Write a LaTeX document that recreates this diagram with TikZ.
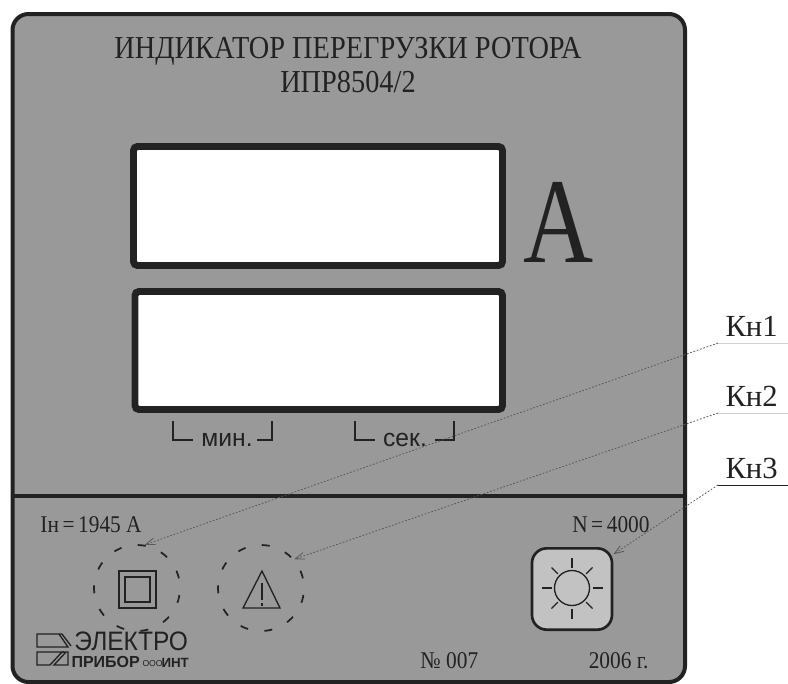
\documentclass[tikz,border=0pt]{standalone}
\usepackage{fontspec}
\setmainfont{Liberation Serif}
\setsansfont{Liberation Sans}
\usetikzlibrary{arrows.meta}
\definecolor{panelgrey}{HTML}{999999}
\definecolor{btngrey}{HTML}{C2C2C2}
\definecolor{inkdark}{HTML}{222222}
\definecolor{leadergrey}{HTML}{5A5A5A}
\tikzset{every picture/.style={line width=0.75pt}}
\tikzset{
  paneltext/.style={inner sep=0pt,text=inkdark},
  smalltext/.style={paneltext,xscale=0.89,font=\fontsize{18pt}{20pt}\selectfont},
  titletext/.style={paneltext,anchor=base,xscale=0.886,font=\fontsize{24pt}{26pt}\selectfont},
  dispbox/.style={draw=inkdark,fill=white,line width=5.2pt,rounded corners=3pt},
  btnring/.style={circle,draw=inkdark,line width=1.3pt,minimum size=64.5pt,inner sep=0pt,dash pattern=on 6pt off 12.4pt,dash phase=11.1pt},
  btnbox/.style={draw=inkdark,fill=btngrey,line width=2pt,rounded corners=11pt,minimum width=60pt,minimum height=61pt,inner sep=0pt},
  leader/.style={draw=leadergrey,line width=0.6pt,dash pattern=on 1.3pt off 1.3pt,-{Straight Barb[length=7pt,width=5pt]}},
  symline/.style={draw=inkdark,line width=1pt},
}

\begin{document}
\begin{tikzpicture}[x=0.75pt,y=0.75pt,yscale=-1,xscale=1]
\useasboundingbox (0,0) rectangle (788,683);

%Shape: Panel
\draw [draw=inkdark,fill=panelgrey,line width=3pt,rounded corners=12pt] (12.5,14) rectangle (685,682);
%Straight Lines: divider
\draw [draw=inkdark,line width=2.8pt] (12.5,496) -- (685,496);

%Shape: Displays
\draw [dispbox] (133.5,146.5) rectangle (502.5,265.5);
\draw [dispbox] (135,291.5) rectangle (502.5,409.5);

% Text Node
\node (title) [titletext] at (348,58) {ИНДИКАТОР ПЕРЕГРУЗКИ РОТОРА};
\node (model) [titletext] at (348,92.5) {ИПР8504/2};
\node (unit) [paneltext,anchor=base,xscale=0.8] at (559,262) {\fontsize{91pt}{91pt}\selectfont А};

%Straight Lines: brackets
\draw [symline] (173,421) -- (173,440) -- (193,440);
\draw [symline] (272,421) -- (272,440) -- (257,440);
\draw [symline] (355,421) -- (355,440) -- (375,440);
\draw [symline] (454,421) -- (454,440) -- (435,440);
\node (minlabel) [paneltext,anchor=base] at (227,446) {\sffamily\fontsize{18.5pt}{20pt}\selectfont мин.};
\node (seclabel) [paneltext,anchor=base] at (405,446) {\sffamily\fontsize{18.5pt}{20pt}\selectfont сек.};

% Text Node
\node (current) [smalltext,anchor=base west] at (40,532) {Iн\,=\,1945 А};
\node (speed) [smalltext,anchor=base east] at (650,532) {N\,=\,4000};
\node (serial) [smalltext,anchor=base west] at (420,668) {№ 007};
\node (year) [smalltext,anchor=base east] at (649,668) {2006 г.};

%Shape: Buttons
\node (btna) [btnring] at (137,588) {};
\node (btnb) [btnring] at (261,588) {};
\node (btnc) [btnbox] at (572,589) {};

%Shape: Square symbol
\draw [symline] (119,571) rectangle (156,608);
\draw [symline] (125,577) rectangle (150,602);
%Shape: Triangle symbol
\draw [symline,line join=miter] (262,571) -- (280,608) -- (243,608) -- cycle;
\draw [symline] (262,583) -- (262,600);
\draw [symline] (262,603) -- (262,606);
%Shape: Sun symbol
\draw [symline] (572,588) circle (17.5);
\foreach \ang in {0,90,180,270} {
  \draw [symline] (572,588) ++(\ang:20.5) -- ++(\ang:10);
}
\foreach \ang in {45,135,225,315} {
  \draw [symline] (572,588) ++(\ang:20) -- ++(\ang:9);
}

%Shape: Logo emblem
\draw [symline] (62,634) -- (37,634) -- (37,647) -- (68,647) -- (59,634);
\draw [symline] (62,634) -- (71,646);
\draw [symline] (64,652) -- (37,652) -- (37,665) -- (50,665) -- (62,652);
\draw [symline] (66,652) -- (54,665) -- (68,665) -- (68,652) -- (62,652);
\node (logotop) [paneltext,anchor=base west,xscale=0.92] at (74,650) {\sffamily\fontsize{20pt}{22pt}\selectfont ЭЛЕКТРО};
\node (logobot) [paneltext,anchor=base west] at (71,667) {\sffamily\bfseries\fontsize{12pt}{14pt}\selectfont ПРИБОР};
\node (logoooo) [paneltext,anchor=base west] at (142,666) {\sffamily\fontsize{6.5pt}{8pt}\selectfont ООО};
\node (logoint) [paneltext,anchor=base west] at (161,667) {\sffamily\bfseries\fontsize{10pt}{12pt}\selectfont ИНТ};

% Leaders
\node (kna) [paneltext,anchor=base west] at (725,336) {\fontsize{23pt}{25pt}\selectfont Кн1};
\node (knb) [paneltext,anchor=base west] at (725,406) {\fontsize{23pt}{25pt}\selectfont Кн2};
\node (knc) [paneltext,anchor=base west] at (725,478) {\fontsize{23pt}{25pt}\selectfont Кн3};
\coordinate (knaleft) at (718,343);
\coordinate (knbleft) at (718,413);
\coordinate (kncleft) at (718,485);
\coordinate (knaright) at (788,343);
\coordinate (knbright) at (788,413);
\coordinate (kncright) at (788,485);
\draw [draw=black!18,line width=0.7pt] (knaleft) -- (knaright);
\draw [draw=black!18,line width=0.7pt] (knbleft) -- (knbright);
\draw [draw=inkdark,line width=0.7pt] (kncleft) -- (kncright);
\draw [leader] (knaleft) -- (btna.80);
\draw [leader] (knbleft) -- (btnb.41);
\draw [leader] (kncleft) -- (btnc.40);
\end{tikzpicture}
\end{document}
